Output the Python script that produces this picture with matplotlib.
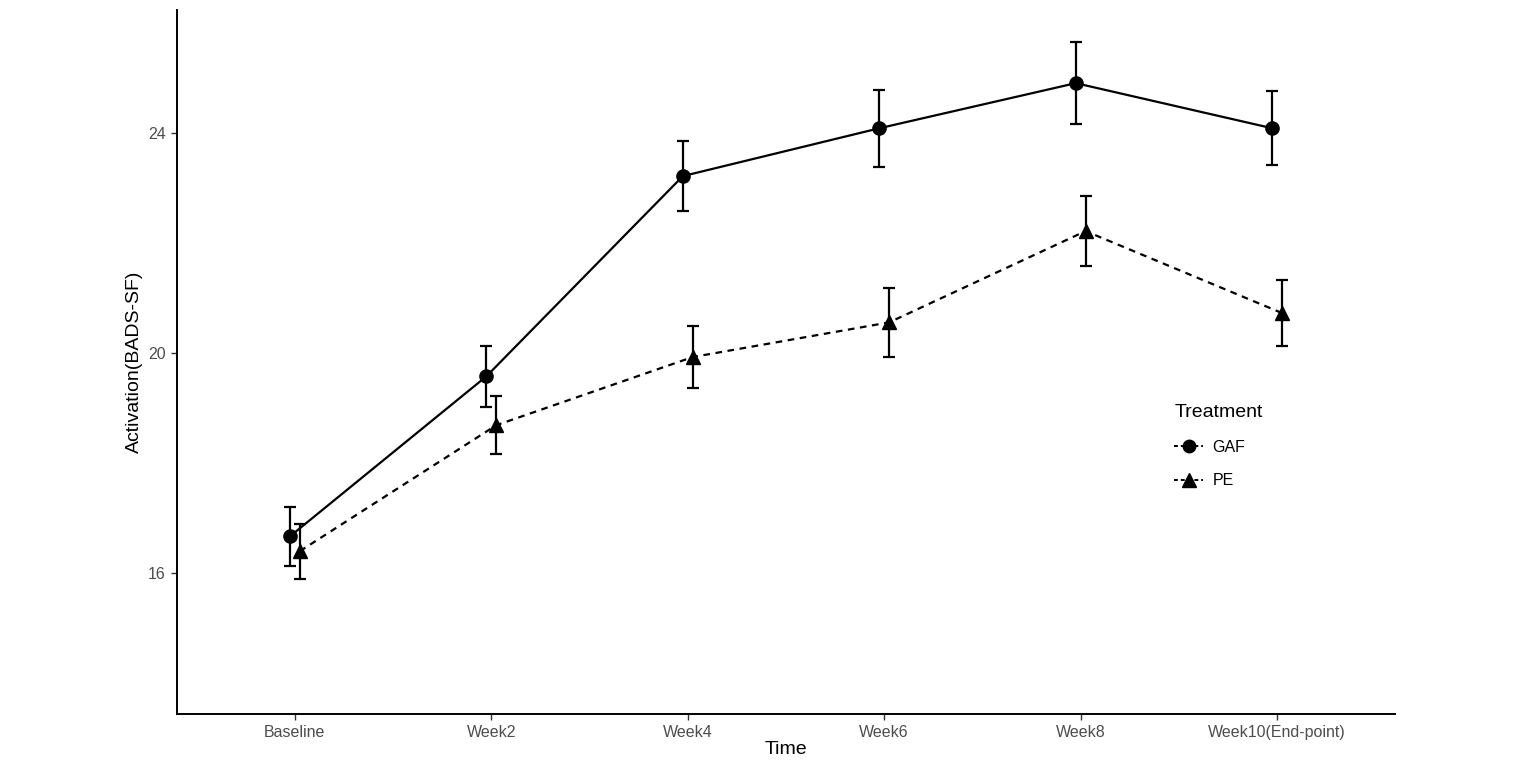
import numpy as np
import matplotlib.pyplot as plt
from matplotlib.lines import Line2D

plt.rcParams['font.family'] = ['Liberation Sans', 'DejaVu Sans']

times = ['Baseline', 'Week2', 'Week4', 'Week6', 'Week8', 'Week10(End-point)']
gaf_mean = [16.67, 19.58, 23.22, 24.09, 24.91, 24.09]
gaf_se = [0.53, 0.56, 0.64, 0.70, 0.75, 0.67]
pe_mean = [16.40, 18.69, 19.93, 20.56, 22.22, 20.73]
pe_se = [0.50, 0.53, 0.56, 0.63, 0.64, 0.60]

x = np.arange(len(times))
dodge = 0.025

fig = plt.figure(figsize=(15.24, 7.72), dpi=100)
ax = fig.add_axes([177/1524, 58/772, (1395-177)/1524, (714-10)/772])

ax.errorbar(x - dodge, gaf_mean, yerr=gaf_se, color='black', lw=1.6,
            marker='o', ms=9.5, capsize=4, capthick=1.6, elinewidth=1.6,
            linestyle='-', label='GAF')
ax.errorbar(x + dodge, pe_mean, yerr=pe_se, color='black', lw=1.6,
            marker='^', ms=10.5, capsize=4, capthick=1.6, elinewidth=1.6,
            linestyle=(0, (3, 2.5)), label='PE')

ax.set_xlim(-0.6, len(times) - 1 + 0.6)
ax.set_ylim(13.44, 26.24)
ax.set_xticks(x)
ax.set_xticklabels(times)
ax.set_yticks([16, 20, 24])
ax.tick_params(colors='#4d4d4d', labelsize=11.5, length=4, width=1, pad=4)
ax.tick_params(axis='both', color='#333333')
for s in ['top', 'right']:
    ax.spines[s].set_visible(False)
for s in ['left', 'bottom']:
    ax.spines[s].set_linewidth(1.4)

ax.set_xlabel('Time', fontsize=14, labelpad=1)
ax.set_ylabel('Activation(BADS-SF)', fontsize=14, labelpad=4)

handles = [Line2D([], [], color='black', lw=1.4, marker='o', ms=9, linestyle=(0, (2, 1.5))),
           Line2D([], [], color='black', lw=1.4, marker='^', ms=10, linestyle=(0, (2, 1.5)))]
leg = ax.legend(handles, ['GAF', 'PE'], title='Treatment', frameon=False,
                loc='upper left', bbox_to_anchor=((1160-177)/1218, (714-390)/704),
                fontsize=11.5, title_fontsize=14, handlelength=1.8, labelspacing=1.15,
                handletextpad=0.6)
leg._legend_box.align = 'left'

fig.savefig('out.png', dpi=100)
